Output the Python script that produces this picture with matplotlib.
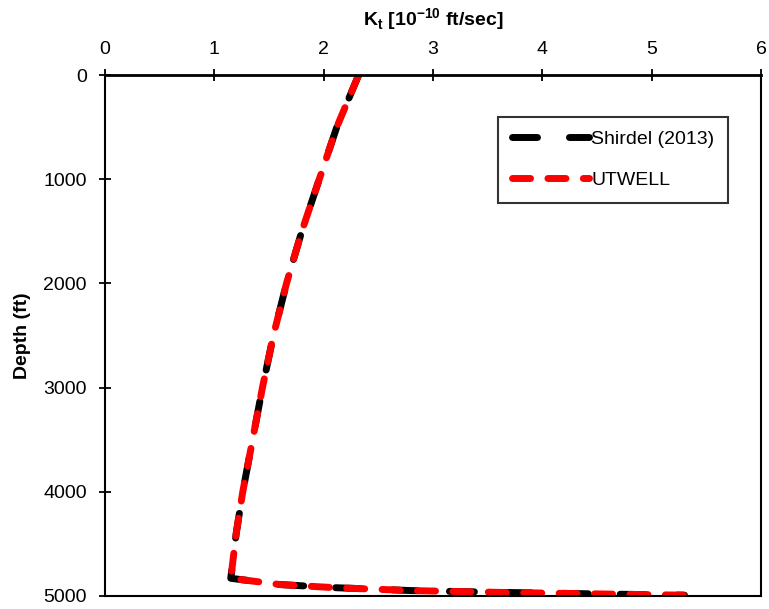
import matplotlib
matplotlib.use("Agg")
import matplotlib.pyplot as plt

plt.rcParams['font.family'] = ['Liberation Sans', 'DejaVu Sans']

# Thermal conductivity profile vs depth
depth = [0, 250, 500, 1000, 1500, 2000, 2500, 3000, 3500, 4000, 4400, 4750, 4830,
         4890, 4920, 4948, 4965, 4980, 4992]
k_shirdel = [2.32, 2.22, 2.12, 1.96, 1.80, 1.66, 1.54, 1.44, 1.35, 1.26, 1.20, 1.16, 1.15,
             1.60, 2.10, 2.80, 3.60, 4.50, 5.30]
k_utwell = [2.32, 2.22, 2.12, 1.96, 1.80, 1.66, 1.54, 1.44, 1.35, 1.26, 1.20, 1.16, 1.15,
            1.60, 2.10, 2.80, 3.60, 4.50, 5.30]

fig = plt.figure(figsize=(7.69, 6.09), dpi=100)
ax = fig.add_axes([105/769, 1 - 596/609, (761-105)/769, (596-75)/609])

ax.plot(k_shirdel, depth, color='black', lw=5, dashes=(3.6, 4.6),
        dash_capstyle='round', label='Shirdel (2013)')
ax.plot(k_utwell, depth, color='#ff0000', lw=5, dashes=(2.6, 2.5),
        dash_capstyle='round', label='UTWELL')

ax.set_xlim(0, 6)
ax.set_ylim(5000, 0)
ax.set_xticks(range(0, 7))
ax.set_yticks(range(0, 5001, 1000))
ax.xaxis.tick_top()
ax.xaxis.set_label_position('top')
ax.tick_params(axis='both', direction='inout', length=8, width=1.3,
               labelsize=14)
ax.tick_params(axis='y', pad=9)
ax.tick_params(axis='x', pad=8)
for s in ax.spines.values():
    s.set_linewidth(1.5)
ax.spines['top'].set_linewidth(2)

ax.set_xlabel(r'K$_\mathregular{t}$ [10$^\mathregular{-10}$ ft/sec]',
              fontsize=14, fontweight='bold', labelpad=11)
ax.set_ylabel('Depth (ft)', fontsize=14, fontweight='bold', labelpad=9)

leg = ax.legend(loc='upper left', bbox_to_anchor=((498-105)/656, 1 - (117-75)/521),
                fontsize=14, frameon=True, fancybox=False, edgecolor='black',
                handlelength=4.0, handletextpad=0.1, borderpad=0.7,
                labelspacing=1.2, borderaxespad=0)
leg.get_frame().set_linewidth(1.5)

fig.savefig('out.png', dpi=100)
